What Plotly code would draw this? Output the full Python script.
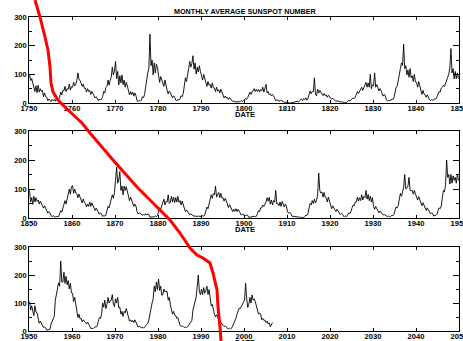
import plotly.graph_objects as go

# ---------------- data (approximate quarterly sunspot numbers) ----------------
title_text = "MONTHLY AVERAGE SUNSPOT NUMBER"
axis_title = "DATE"
panel_start_years = [1750, 1850, 1950]
y_tick_values = [0, 100, 200, 300]
y_minor_values = [50, 150, 250]

ssn_1750_1849 = [
    100, 78, 85, 70, 55, 40, 60, 36, 62, 38, 50, 41, 44, 22, 35, 22, 20, 8, 14, 7,
    5, 12, 8, 13, 6, 14, 9, 12, 20, 38, 28, 44, 42, 58, 40, 50, 48, 66, 45, 57,
    55, 72, 60, 65, 78, 105, 82, 79, 70, 58, 66, 51, 52, 38, 50, 40, 44, 30, 40, 32,
    28, 18, 22, 16, 8, 14, 10, 14, 22, 40, 35, 54, 58, 80, 62, 79, 90, 125, 98, 111,
    145, 85, 110, 63, 95, 70, 98, 64, 80, 55, 72, 59, 42, 28, 40, 29, 38, 24, 35, 26,
    8, 5, 9, 6, 10, 22, 18, 29, 55, 90, 105, 120, 240, 130, 150, 98, 140, 105, 135, 124,
    95, 72, 92, 80, 75, 58, 80, 59, 44, 32, 42, 36, 28, 18, 25, 20, 10, 8, 13, 10,
    15, 25, 22, 34, 60, 88, 75, 109, 120, 145, 125, 138, 165, 118, 140, 101, 125, 108, 130, 110,
    95, 80, 100, 85, 72, 58, 75, 62, 65, 52, 70, 53, 52, 40, 55, 41, 46, 35, 48, 35,
    25, 18, 24, 18, 20, 12, 19, 13, 8, 5, 7, 6, 3, 5, 4, 4, 5, 8, 6, 8,
    10, 16, 13, 19, 28, 38, 30, 40, 42, 50, 40, 48, 40, 47, 38, 47, 42, 55, 38, 55,
    65, 35, 40, 29, 32, 25, 30, 25, 12, 8, 11, 9, 9, 6, 10, 7, 3, 2, 3, 2,
    0, 0, 0, 0, 1, 2, 1, 2, 4, 6, 4, 6, 10, 15, 9, 15, 12, 18, 10, 16,
    28, 42, 32, 40, 40, 88, 30, 25, 48, 35, 44, 37, 35, 26, 33, 26, 28, 20, 27, 21,
    18, 13, 17, 14, 8, 5, 8, 5, 5, 3, 5, 3, 1, 2, 2, 2, 6, 10, 7, 11,
    14, 18, 15, 20, 30, 40, 33, 42, 45, 55, 44, 54, 60, 72, 55, 70, 55, 100, 50, 63,
    60, 105, 55, 64, 55, 42, 50, 44, 32, 24, 30, 24, 10, 7, 9, 8, 9, 14, 12, 18,
    40, 55, 58, 75, 95, 120, 140, 131, 205, 120, 130, 98, 115, 90, 120, 88, 95, 75, 100, 73,
    72, 55, 75, 56, 42, 30, 44, 31, 28, 20, 29, 20, 12, 9, 12, 10, 10, 15, 14, 21,
    30, 40, 38, 52, 55, 62, 58, 71, 80, 90, 100, 124, 190, 105, 120, 84, 110, 85, 105, 85,
]

ssn_1850_1949 = [
    95, 55, 70, 47, 75, 55, 70, 58, 62, 48, 58, 48, 45, 34, 42, 35, 26, 17, 22, 18,
    8, 5, 8, 6, 3, 5, 4, 5, 15, 25, 20, 31, 45, 60, 48, 66, 85, 100, 82, 108,
    112, 85, 100, 86, 85, 70, 82, 72, 65, 52, 66, 53, 50, 38, 48, 40, 55, 40, 52, 41,
    36, 26, 34, 26, 20, 13, 18, 14, 5, 8, 7, 9, 25, 40, 35, 50, 60, 80, 68, 88,
    130, 175, 120, 131, 160, 95, 110, 80, 110, 95, 108, 93, 75, 60, 72, 58, 50, 40, 48, 41,
    22, 14, 18, 14, 14, 9, 12, 10, 15, 10, 14, 11, 3, 4, 3, 4, 4, 7, 5, 8,
    22, 35, 30, 42, 50, 65, 45, 57, 55, 80, 50, 54, 75, 55, 72, 53, 70, 55, 75, 54,
    60, 45, 58, 46, 30, 22, 28, 22, 15, 11, 14, 12, 8, 6, 7, 6, 5, 7, 6, 7,
    4, 8, 6, 10, 25, 38, 32, 47, 60, 80, 68, 84, 80, 110, 72, 78, 88, 70, 85, 69,
    70, 58, 68, 60, 48, 36, 46, 37, 30, 22, 30, 23, 32, 22, 30, 23, 14, 10, 13, 11,
    11, 8, 10, 9, 2, 3, 3, 3, 4, 6, 4, 6, 15, 25, 22, 35, 35, 45, 40, 48,
    55, 70, 58, 71, 48, 62, 45, 60, 55, 95, 48, 50, 42, 55, 40, 57, 50, 38, 48, 40,
    22, 16, 20, 16, 7, 5, 6, 5, 3, 4, 3, 4, 1, 2, 1, 2, 5, 10, 9, 14,
    35, 50, 45, 60, 50, 65, 52, 61, 80, 155, 95, 86, 90, 72, 88, 72, 70, 55, 72, 58,
    42, 32, 42, 34, 30, 22, 30, 22, 16, 12, 16, 13, 6, 5, 7, 5, 12, 18, 15, 22,
    35, 45, 42, 55, 55, 72, 58, 70, 60, 80, 62, 74, 70, 95, 65, 81, 60, 75, 55, 70,
    40, 30, 40, 33, 25, 18, 24, 18, 12, 10, 12, 10, 6, 5, 7, 5, 6, 9, 8, 12,
    28, 38, 35, 43, 65, 85, 75, 93, 105, 150, 100, 103, 110, 140, 95, 94, 95, 82, 95, 83,
    72, 62, 74, 63, 52, 42, 53, 43, 34, 26, 35, 27, 18, 14, 18, 15, 6, 10, 9, 13,
    25, 35, 32, 41, 70, 95, 90, 115, 200, 140, 150, 117, 150, 120, 145, 130, 140, 120, 150, 129,
]

ssn_1950_2006 = [
    105, 75, 90, 66, 55, 90, 68, 65, 38, 28, 35, 25, 18, 12, 15, 11, 3, 5, 4, 6,
    25, 35, 40, 52, 110, 135, 150, 172, 160, 250, 175, 175, 210, 170, 195, 165, 180, 150, 170, 136,
    135, 105, 120, 89, 65, 48, 60, 43, 45, 33, 40, 32, 30, 25, 32, 25, 14, 9, 10, 8,
    12, 15, 14, 19, 35, 48, 45, 60, 100, 85, 110, 80, 95, 120, 100, 109, 110, 130, 95, 87,
    115, 100, 120, 83, 85, 60, 70, 52, 70, 65, 80, 61, 45, 35, 40, 32, 38, 30, 40, 30,
    18, 14, 17, 13, 12, 14, 10, 14, 18, 25, 28, 39, 65, 90, 100, 115, 160, 140, 175, 147,
    185, 145, 160, 128, 130, 150, 140, 142, 140, 110, 120, 94, 80, 60, 70, 56, 55, 45, 48, 36,
    20, 17, 18, 16, 12, 14, 13, 15, 20, 28, 32, 38, 75, 95, 110, 121, 160, 200, 140, 130,
    150, 130, 155, 135, 145, 160, 130, 148, 120, 90, 95, 72, 60, 50, 58, 50, 35, 28, 30, 27,
    20, 16, 18, 16, 9, 8, 10, 7, 10, 18, 25, 33, 45, 60, 70, 82, 80, 90, 100, 103,
    110, 170, 115, 84, 95, 120, 100, 129, 110, 115, 105, 86, 70, 60, 65, 60, 40, 45, 38, 39,
    30, 35, 25, 29, 15, 25, 30,
]
panel_series = [ssn_1750_1849, ssn_1850_1949, ssn_1950_2006]

# red hand-drawn overlay curve, in page pixels (x from left, y from top)
red_curve_px = [
    (35, 0), (40, 17), (45, 37), (48, 50), (50, 67), (51, 83), (53, 92), (58, 100),
    (68, 110), (82, 123), (90, 133), (113, 160), (137, 187), (157, 207), (170, 220),
    (180, 233), (190, 248), (197, 255), (203, 258), (210, 263), (213, 273), (217, 290),
    (218, 307), (220, 327), (221, 341),
]

# ---------------- layout geometry ----------------
W, H = 463, 341
ML, MR, MT, MB = 29, 4, 17, 10
PW, PH = W - ML - MR, H - MT - MB
panel_px = [(17, 103), (131, 218), (247, 331)]  # (top, bottom) pixel rows of each panel


def py2paper(py):
    return (H - MB - py) / PH


def px2paper(px):
    return (px - ML) / PW


FONT = "Liberation Sans, Arial, sans-serif"

fig = go.Figure()
layout = dict(
    width=W, height=H,
    margin=dict(l=ML, r=MR, t=MT, b=MB, pad=0, autoexpand=False),
    paper_bgcolor="white", plot_bgcolor="white",
    showlegend=False,
    font=dict(family=FONT, color="black"),
)

for i, (start, vals) in enumerate(zip(panel_start_years, panel_series)):
    n = i + 1
    xs = [start + (k + 0.5) / 4 for k in range(len(vals))]
    fig.add_trace(go.Scatter(
        x=xs, y=vals, mode="lines",
        line=dict(color="black", width=0.9),
        xaxis=f"x{n}", yaxis=f"y{n}", hoverinfo="skip",
    ))
    top, bot = panel_px[i]
    xk = "xaxis" if n == 1 else f"xaxis{n}"
    yk = "yaxis" if n == 1 else f"yaxis{n}"
    tickyears = list(range(start, start + 101, 10))
    layout[xk] = dict(
        domain=[0, 1], anchor=f"y{n}", range=[start, start + 100],
        tickvals=tickyears, ticktext=[str(t) for t in tickyears],
        ticks="inside", ticklen=3, tickwidth=1, tickcolor="black",
        showline=True, linecolor="black", linewidth=1, mirror="allticks",
        showgrid=False, zeroline=False, automargin=False,
        ticklabelstandoff=-2, ticklabeloverflow="allow",
        tickfont=dict(size=7.6, family=FONT, color="black", weight="bold"),
        tickangle=0,
    )
    layout[yk] = dict(
        domain=[py2paper(bot), py2paper(top)], anchor=f"x{n}", range=[0, 300],
        tickvals=y_tick_values, ticktext=[str(v) for v in y_tick_values],
        ticks="inside", ticklen=6, tickwidth=1, tickcolor="black",
        minor=dict(tickvals=y_minor_values, ticks="inside", ticklen=3,
                   tickwidth=1, tickcolor="black", showgrid=False),
        showline=True, linecolor="black", linewidth=1, mirror="allticks",
        showgrid=False, zeroline=False, automargin=False,
        ticklabeloverflow="allow",
        tickfont=dict(size=7.4, family=FONT, color="black", weight="bold"),
    )

annotations = [dict(
    text=title_text, xref="paper", yref="paper",
    x=px2paper(245), y=py2paper(11.5), xanchor="center", yanchor="middle",
    showarrow=False, font=dict(size=7.2, family=FONT, color="black", weight="bold"),
)]
for top, bot in panel_px:
    annotations.append(dict(
        text=axis_title, xref="paper", yref="paper",
        x=px2paper(245), y=py2paper(bot + 11.5), xanchor="center", yanchor="middle",
        showarrow=False, font=dict(size=7.6, family=FONT, color="black", weight="bold"),
    ))
layout["annotations"] = annotations

path = "M " + " L ".join(f"{px2paper(x):.5f},{py2paper(y):.5f}" for x, y in red_curve_px)
layout["shapes"] = [dict(
    type="path", path=path, xref="paper", yref="paper",
    line=dict(color="#ff0000", width=3), layer="above",
)]

fig.update_layout(**layout)
fig.write_html(
    "out.html",
    config={"displayModeBar": False, "staticPlot": True},
    post_script="document.body.style.margin='0';document.body.style.overflow='hidden';",
)
